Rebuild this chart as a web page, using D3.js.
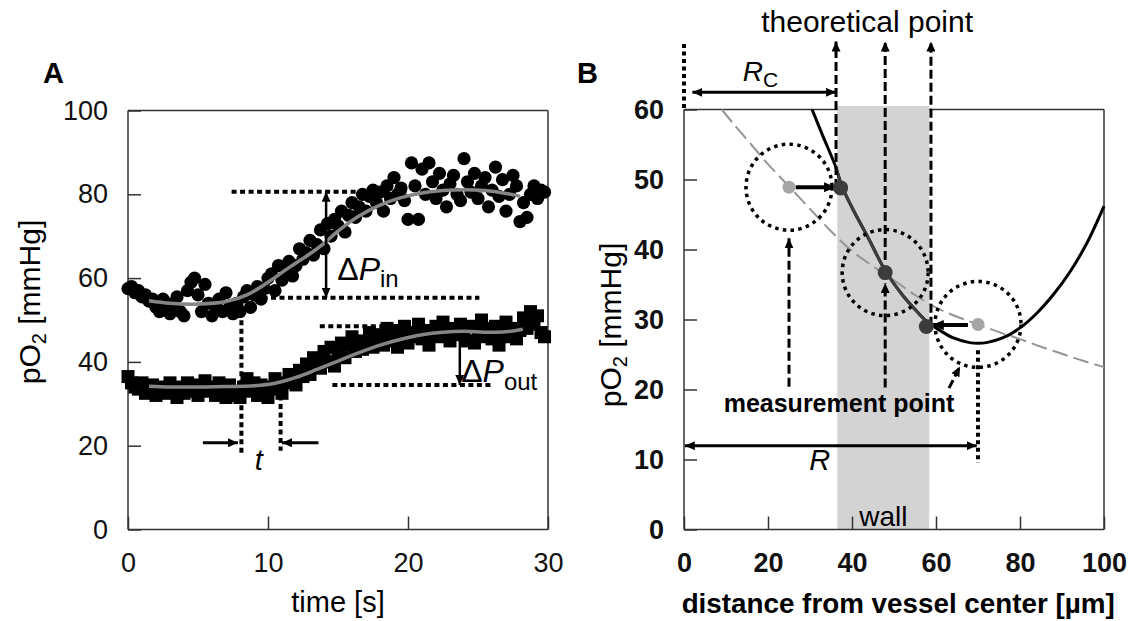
<!DOCTYPE html>
<html>
<head>
<meta charset="utf-8">
<script src="https://cdn.jsdelivr.net/npm/d3@7/dist/d3.min.js"></script>
<style>
  body { margin: 0; background: #fff; }
  svg { display: block; font-family: "Liberation Sans", Arial, sans-serif; }
</style>
</head>
<body>
<div class="chart"></div>
<script>
// ---------- Panel A data ----------
// samples every 0.25 s
const timeA = d3.range(0, 30, 0.25);
const inVessel = [
  57.5, 58, 56.5, 57, 55.5, 56, 54.5, 55,
  53, 52, 55, 54, 51.5, 53, 55.5, 52,
  51, 57, 59, 60, 56, 52, 58.5, 54,
  51, 53.5, 55, 52, 56.5, 53, 51.5, 54,
  52, 55.5, 57, 53, 56, 58, 55, 57.5,
  60, 61, 57, 63, 59.5, 62, 64, 60.5,
  63, 67, 64.5, 66, 69, 65.5, 68, 71.5,
  67, 73, 70, 74, 72.5, 76, 71, 75,
  78, 74.5, 77, 80, 76, 79.5, 81, 78,
  80.5, 76, 82, 79, 84, 80, 81.5, 78.5,
  74, 87.5, 82, 74, 86, 80, 87.5, 83,
  79, 85, 81, 77, 82.5, 84.5, 80, 78.5,
  88.5, 83, 80.5, 85, 79, 82, 84, 77,
  81, 86.5, 79.5, 83.5, 76, 80, 84.5, 82,
  73.5, 78, 74.5, 80, 82, 79, 81, 80.5
];
const outVessel = [
  36.5, 35, 34, 33.5, 35, 32.5, 33, 34.5,
  32, 33.5, 34, 32.5, 35, 33, 31.5, 34,
  32.5, 35, 33, 34.5, 32, 33.5, 35.5, 33,
  34, 32, 35, 33, 31.5, 34.5, 33, 32,
  31.5, 34, 36, 33, 35, 32, 34.5, 33,
  31.5, 34, 36, 33.5, 32.5, 35, 37, 36,
  34.5, 38, 36.5, 39.5, 37, 41, 40, 38.5,
  42.5, 40, 43.5, 39, 42, 44.5, 41, 44,
  46, 42.5, 45, 43, 44.5, 47, 43.5, 45.5,
  46.5, 44, 48, 45, 47.5, 43.5, 46, 48.5,
  44.5, 47, 46, 49, 45.5, 47.5, 44, 46.5,
  48.5, 46, 49.5, 47, 45, 48, 46.5, 49,
  47.5, 45, 48.5, 44.5, 47, 50, 46, 48,
  45.5, 48.5, 44, 47, 49.5, 46, 48, 45.5,
  47.5, 50.5, 48, 52, 49, 51, 47, 46
];
const fitInT = [1.5, 3, 5, 7, 8.5, 10, 11.5, 13, 14, 15, 16.5, 18, 19.5, 21, 22.5, 24, 25.5, 27, 28];
const fitIn  = [54.6, 54.0, 53.8, 54.4, 56, 59, 62.5, 65.8, 68.3, 71.2, 74.8, 77.4, 79.2, 80.3, 80.9, 81.1, 80.9, 80.2, 79.5];
const fitOutT = [1.5, 3, 5, 7, 9, 10.5, 12, 13.5, 15, 16.5, 18, 19.5, 21, 22.5, 24, 25.5, 27, 28.2];
const fitOut  = [34.2, 34.0, 34.0, 34.1, 34.3, 34.9, 36.3, 38.2, 40.2, 42.2, 44.0, 45.4, 46.5, 47.1, 47.3, 47.1, 47.2, 47.8];

// annotation guides, data units [t, pO2]
const plateauIn = [80.6, 55.3];
const plateauOut = [48.5, 34.5];
const delayT = [8.1, 10.9];

// ---------- Panel B data ----------
const dashX = [9, 12, 16, 20, 25, 30, 35, 40, 45, 50, 55, 60, 65, 70, 75, 80, 85, 90, 95, 100];
const dashY = [60, 57.8, 55, 52.2, 49, 45.8, 42.6, 39.8, 37.6, 35.6, 33.5, 31.7, 30.4, 29.3, 28.2, 27.2, 26.1, 25.1, 24.1, 23.2];
const solidX = [30.5, 33, 36, 37.5, 40, 44, 47.9, 52, 56, 57.8, 60, 64, 68, 70, 72, 76, 80, 84, 88, 92, 96, 100];
const solidY = [60, 56.3, 52, 49.2, 46, 41.5, 37, 33.5, 30.8, 29.7, 28.8, 27.4, 26.7, 26.6, 26.7, 27.4, 28.8, 30.9, 33.6, 36.9, 41, 46.2];
const measured = [[25, 48.9], [47.9, 36.7], [70, 29.3]];
const theoretical = [[37.3, 48.8], [47.9, 36.7], [57.7, 29.0]];
const wall = [36.5, 58.4];
const radiusC = 36.2, radiusR = 70;

// ---------- Layout ----------
const W = 1137, H = 621;
const xA = d3.scaleLinear().domain([0, 30]).range([128, 548]);
const yA = d3.scaleLinear().domain([0, 100]).range([529.5, 110.5]);
const xB = d3.scaleLinear().domain([0, 100]).range([684, 1104]);
const yB = d3.scaleLinear().domain([0, 60]).range([529.5, 109.5]);

const svg = d3.select(".chart").append("svg")
    .attr("width", W)
    .attr("height", H);

const defs = svg.append("defs");
function marker(id, len, wid) {
  defs.append("marker")
      .attr("id", id)
      .attr("viewBox", `0 0 ${len} ${wid}`)
      .attr("refX", len).attr("refY", wid / 2)
      .attr("markerWidth", len).attr("markerHeight", wid)
      .attr("markerUnits", "userSpaceOnUse")
      .attr("orient", "auto-start-reverse")
    .append("path")
      .attr("d", `M0,0L${len},${wid / 2}L0,${wid}z`)
      .attr("fill", "#000");
}
marker("ah", 12, 10);
marker("ahs", 10, 9);

const dotted = "5 3.5";

function drawAxes(g, x, y, xTicks, yTicks, bold) {
  const xAxis = g.append("g")
      .attr("transform", `translate(0,${y.range()[0]})`)
      .call(d3.axisBottom(x).tickValues(xTicks).tickSizeInner(-13).tickSizeOuter(0).tickPadding(23));
  const yAxis = g.append("g")
      .attr("transform", `translate(${x.range()[0]},0)`)
      .call(d3.axisLeft(y).tickValues(yTicks).tickSizeInner(-13).tickSizeOuter(0).tickPadding(20));
  [xAxis, yAxis].forEach(a => {
    a.select(".domain").remove();
    a.selectAll("line").attr("stroke", "#333").attr("stroke-width", 1.5);
    a.selectAll("text")
        .attr("font-size", 27)
        .attr("font-family", "Liberation Sans, Arial, sans-serif")
        .attr("font-weight", bold ? "bold" : "normal")
        .attr("fill", "#111");
  });
}

function frameLines(g, x, y, sides) {
  const [x0, x1] = x.range(), [y0, y1] = y.range();
  const seg = {top: [x0, y1, x1, y1], bottom: [x0, y0, x1, y0], left: [x0, y0, x0, y1], right: [x1, y0, x1, y1]};
  sides.forEach(s => g.append("line")
      .attr("x1", seg[s][0]).attr("y1", seg[s][1]).attr("x2", seg[s][2]).attr("y2", seg[s][3])
      .attr("stroke", "#333").attr("stroke-width", 1.5));
}

// ================= Panel A =================
const gA = svg.append("g");
frameLines(gA, xA, yA, ["top", "bottom", "left", "right"]);
drawAxes(gA, xA, yA, [0, 10, 20, 30], [0, 20, 40, 60, 80, 100], false);

// dotted guide lines under the points
const guideA = [
  [[7.4, plateauIn[0]], [20, plateauIn[0]]],
  [[9, plateauIn[1]], [25.1, plateauIn[1]]],
  [[13.7, plateauOut[0]], [24, plateauOut[0]]],
  [[14.6, plateauOut[1]], [25.9, plateauOut[1]]],
  [[delayT[0], 54], [delayT[0], 18.3]],
  [[delayT[1], 34], [delayT[1], 18.8]]
];
gA.selectAll(".guide").data(guideA).enter().append("line")
    .attr("class", "guide")
    .attr("x1", d => xA(d[0][0])).attr("y1", d => yA(d[0][1]))
    .attr("x2", d => xA(d[1][0])).attr("y2", d => yA(d[1][1]))
    .attr("stroke", "#000").attr("stroke-width", 4).attr("stroke-dasharray", dotted);

// delta P out arrow (under squares)
gA.append("line")
    .attr("x1", xA(23.7)).attr("y1", yA(47))
    .attr("x2", xA(23.7)).attr("y2", yA(plateauOut[1]))
    .attr("stroke", "#000").attr("stroke-width", 2.5)
    .attr("marker-end", "url(#ahs)");

gA.selectAll(".in").data(inVessel).enter().append("circle")
    .attr("class", "in")
    .attr("cx", (d, i) => xA(timeA[i]))
    .attr("cy", d => yA(d))
    .attr("r", 6.6)
    .attr("fill", "#000");

gA.selectAll(".out").data(outVessel).enter().append("rect")
    .attr("class", "out")
    .attr("x", (d, i) => xA(timeA[i]) - 6.5)
    .attr("y", d => yA(d) - 6.5)
    .attr("width", 13).attr("height", 13)
    .attr("fill", "#000");

const lineA = d3.line().curve(d3.curveCatmullRom.alpha(0.5))
    .x(d => xA(d[0])).y(d => yA(d[1]));
[[fitInT, fitIn], [fitOutT, fitOut]].forEach(([t, v]) => {
  gA.append("path")
      .datum(t.map((tt, i) => [tt, v[i]]))
      .attr("d", lineA)
      .attr("fill", "none")
      .attr("stroke", "#858585")
      .attr("stroke-width", 3.5);
});

// delta P in double arrow
gA.append("line")
    .attr("x1", xA(14.15)).attr("y1", yA(plateauIn[0]))
    .attr("x2", xA(14.15)).attr("y2", yA(plateauIn[1]))
    .attr("stroke", "#000").attr("stroke-width", 2.5)
    .attr("marker-start", "url(#ahs)").attr("marker-end", "url(#ahs)");

// delay arrows
gA.append("line")
    .attr("x1", xA(5.35)).attr("y1", yA(20.7)).attr("x2", xA(7.85)).attr("y2", yA(20.7))
    .attr("stroke", "#000").attr("stroke-width", 3).attr("marker-end", "url(#ahs)");
gA.append("line")
    .attr("x1", xA(13.6)).attr("y1", yA(20.7)).attr("x2", xA(11.0)).attr("y2", yA(20.7))
    .attr("stroke", "#000").attr("stroke-width", 3).attr("marker-end", "url(#ahs)");

// labels A
gA.append("text").attr("x", 43).attr("y", 83).text("A")
    .attr("font-size", 29).attr("font-weight", "bold");
gA.append("text").attr("x", xA(9.35)).attr("y", yA(14.2)).text("t")
    .attr("text-anchor", "middle").attr("font-size", 29).attr("font-style", "italic");

function deltaLabel(g, x, y, sub, subDy) {
  const t = g.append("text").attr("x", x).attr("y", y).attr("font-size", 32);
  t.append("tspan").text("Δ");
  t.append("tspan").text("P").attr("font-style", "italic");
  t.append("tspan").text(sub).attr("font-size", 24).attr("dy", subDy);
}
deltaLabel(gA, xA(14.95), yA(59.5), "in", 7);
deltaLabel(gA, xA(23.8), yA(35.3), "out", 8);

gA.append("text").attr("x", xA(15)).attr("y", 612)
    .attr("text-anchor", "middle").attr("font-size", 29).text("time [s]");

function yLabel(g, x, y) {
  const t = g.append("text")
      .attr("transform", `translate(${x},${y}) rotate(-90)`)
      .attr("text-anchor", "middle").attr("font-size", 30);
  t.append("tspan").text("pO");
  t.append("tspan").text("2").attr("font-size", 20).attr("dy", 6);
  t.append("tspan").text(" [mmHg]").attr("dy", -6);
}
yLabel(gA, 40, 302);

// ================= Panel B =================
const gB = svg.append("g");
frameLines(gB, xB, yB, ["top"]);

// wall band
gB.append("rect")
    .attr("x", xB(wall[0])).attr("width", xB(wall[1]) - xB(wall[0]))
    .attr("y", yB(60) - 3.5).attr("height", yB(0) - yB(60) + 3.5)
    .attr("fill", "#d3d3d3");
frameLines(gB, xB, yB, ["bottom", "left", "right"]);
drawAxes(gB, xB, yB, [0, 20, 40, 60, 80, 100], [0, 10, 20, 30, 40, 50, 60], true);

defs.append("clipPath").attr("id", "wallClip")
  .append("rect")
    .attr("x", xB(wall[0])).attr("width", xB(wall[1]) - xB(wall[0]))
    .attr("y", 0).attr("height", H);

const lineB = d3.line().curve(d3.curveCatmullRom.alpha(0.5))
    .x(d => xB(d[0])).y(d => yB(d[1]));

gB.append("path")
    .datum(dashX.map((x, i) => [x, dashY[i]]))
    .attr("d", lineB)
    .attr("fill", "none").attr("stroke", "#959595").attr("stroke-width", 2)
    .attr("stroke-dasharray", "16 6");

const solidData = solidX.map((x, i) => [x, solidY[i]]);
gB.append("path").datum(solidData).attr("d", lineB)
    .attr("fill", "none").attr("stroke", "#000").attr("stroke-width", 3);
gB.append("path").datum(solidData).attr("d", lineB)
    .attr("clip-path", "url(#wallClip)")
    .attr("fill", "none").attr("stroke", "#3e3e3e").attr("stroke-width", 3);

// dotted circles around measurement points
gB.selectAll(".ring").data(measured).enter().append("circle")
    .attr("class", "ring")
    .attr("cx", d => xB(d[0])).attr("cy", d => yB(d[1]))
    .attr("r", 43)
    .attr("fill", "none").attr("stroke", "#000").attr("stroke-width", 3.5)
    .attr("stroke-dasharray", "3.5 4.3");

// dashed arrows: theoretical points (up to the label)
const theoArrows = [[radiusC, 48.8], [47.9, 38.5], [58.8, 29.1]];
gB.selectAll(".theo").data(theoArrows).enter().append("line")
    .attr("class", "theo")
    .attr("x1", d => xB(d[0])).attr("y1", d => yB(d[1]))
    .attr("x2", d => xB(d[0])).attr("y2", yB(69.7))
    .attr("stroke", "#000").attr("stroke-width", 3).attr("stroke-dasharray", "9 4")
    .attr("marker-end", "url(#ahs)");

// dashed arrows: measurement points (from the label)
const measArrows = [[[25, 20.4], [25, 41.6]], [[47.9, 20.3], [47.9, 35.2]], [[63.1, 20.2], [65.7, 23.3]]];
gB.selectAll(".meas").data(measArrows).enter().append("line")
    .attr("class", "meas")
    .attr("x1", d => xB(d[0][0])).attr("y1", d => yB(d[0][1]))
    .attr("x2", d => xB(d[1][0])).attr("y2", d => yB(d[1][1]))
    .attr("stroke", "#000").attr("stroke-width", 3).attr("stroke-dasharray", "9 4")
    .attr("marker-end", "url(#ahs)");

// measurement -> theoretical shift arrows
const shiftArrows = [[[26.6, 48.9], [36.2, 48.9]], [[67.6, 29.2], [59.0, 29.2]]];
gB.selectAll(".shift").data(shiftArrows).enter().append("line")
    .attr("class", "shift")
    .attr("x1", d => xB(d[0][0])).attr("y1", d => yB(d[0][1]))
    .attr("x2", d => xB(d[1][0])).attr("y2", d => yB(d[1][1]))
    .attr("stroke", "#000").attr("stroke-width", 4)
    .attr("marker-end", "url(#ah)");

gB.selectAll(".mpt").data(measured.filter((d, i) => i !== 1)).enter().append("circle")
    .attr("class", "mpt")
    .attr("cx", d => xB(d[0])).attr("cy", d => yB(d[1]))
    .attr("r", 6.5).attr("fill", "#a6a6a6");
gB.selectAll(".tpt").data(theoretical).enter().append("circle")
    .attr("class", "tpt")
    .attr("cx", d => xB(d[0])).attr("cy", d => yB(d[1]))
    .attr("r", 7.5).attr("fill", "#3c3c3c");

// radius markers
gB.append("line")
    .attr("x1", xB(0)).attr("y1", yB(60.2)).attr("x2", xB(0)).attr("y2", yB(69.5))
    .attr("stroke", "#000").attr("stroke-width", 4).attr("stroke-dasharray", "4 3.5");
gB.append("line")
    .attr("x1", xB(radiusR)).attr("y1", yB(25.6)).attr("x2", xB(radiusR)).attr("y2", yB(9.5))
    .attr("stroke", "#000").attr("stroke-width", 4).attr("stroke-dasharray", "4 3.5");
gB.append("line")
    .attr("x1", xB(2.0)).attr("y1", yB(62.45)).attr("x2", xB(radiusC)).attr("y2", yB(62.45))
    .attr("stroke", "#000").attr("stroke-width", 3)
    .attr("marker-start", "url(#ahs)").attr("marker-end", "url(#ahs)");
gB.append("line")
    .attr("x1", xB(0.2)).attr("y1", yB(11.97)).attr("x2", xB(radiusR - 0.3)).attr("y2", yB(11.97))
    .attr("stroke", "#000").attr("stroke-width", 3)
    .attr("marker-start", "url(#ahs)").attr("marker-end", "url(#ahs)");

// labels B
gB.append("text").attr("x", 577).attr("y", 83).text("B")
    .attr("font-size", 29).attr("font-weight", "bold");
gB.append("text").attr("x", xB(43.6)).attr("y", 31.5)
    .attr("text-anchor", "middle").attr("font-size", 30).text("theoretical point");
const rc = gB.append("text").attr("x", xB(14)).attr("y", 81).attr("font-size", 28);
rc.append("tspan").text("R").attr("font-style", "italic");
rc.append("tspan").text("C").attr("font-size", 21).attr("dy", 6);
gB.append("text").attr("x", xB(32.3)).attr("y", 470)
    .attr("text-anchor", "middle").attr("font-size", 29).attr("font-style", "italic").text("R");
gB.append("text").attr("x", xB(36.9)).attr("y", 411.5)
    .attr("text-anchor", "middle").attr("font-size", 25).attr("font-weight", "bold").text("measurement point");
gB.append("text").attr("x", xB((wall[0] + wall[1]) / 2)).attr("y", 526)
    .attr("text-anchor", "middle").attr("font-size", 28).text("wall");
gB.append("text").attr("x", xB(51)).attr("y", 613)
    .attr("text-anchor", "middle").attr("font-size", 27.8).attr("font-weight", "bold")
    .text("distance from vessel center [µm]");
yLabel(gB, 621, 325);
</script>
</body>
</html>
